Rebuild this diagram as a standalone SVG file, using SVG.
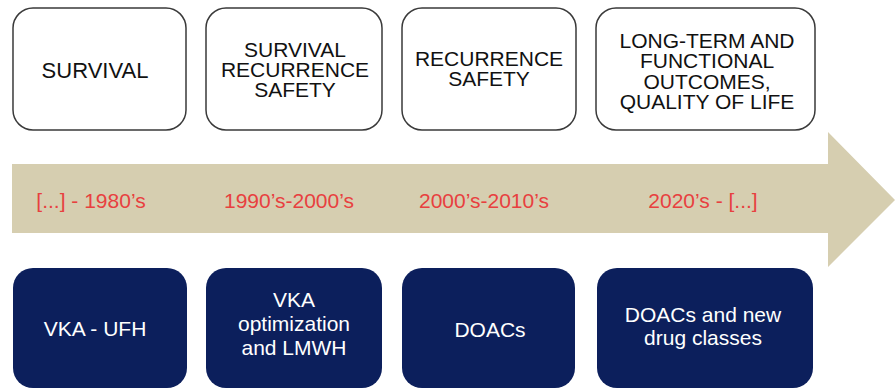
<svg xmlns="http://www.w3.org/2000/svg" width="896" height="389" viewBox="0 0 896 389">
<style>
.top rect{fill:#ffffff;stroke:#3a3a3a;stroke-width:1.5}
.top text{font-family:"Liberation Sans",Arial,sans-serif;font-size:21px;fill:#111111;text-anchor:middle}
.bot rect{fill:#0c1f5c;stroke:none}
.bot text{font-family:"Liberation Sans",Arial,sans-serif;font-size:21px;fill:#ffffff;text-anchor:middle}
.date{font-family:"Liberation Sans",Arial,sans-serif;font-size:21px;fill:#e8403f;text-anchor:middle}
</style>
<rect width="896" height="389" fill="#ffffff"/>
<g id="timeline-arrow">
<polygon points="12,164 828,164 828,132 895,200 828,267 828,233 12,233" fill="#d6ceb0"/>
<text class="date" x="91" y="207.5">[...] - 1980’s</text>
<text class="date" x="289" y="207.5">1990’s-2000’s</text>
<text class="date" x="484" y="207.5">2000’s-2010’s</text>
<text class="date" x="703" y="207.5">2020’s - [...]</text>
</g>
<g id="connectors"></g>
<g id="goal-1" class="top"><rect x="13" y="8" width="173" height="122" rx="20"/><text x="95" y="77.5" style="font-size:22px">SURVIVAL</text></g>
<g id="goal-2" class="top"><rect x="206" y="8" width="176" height="122" rx="20"/><text x="295" y="57">SURVIVAL</text><text x="295" y="77">RECURRENCE</text><text x="295" y="97">SAFETY</text></g>
<g id="goal-3" class="top"><rect x="402" y="8" width="174" height="122" rx="20"/><text x="489" y="66">RECURRENCE</text><text x="489" y="86">SAFETY</text></g>
<g id="goal-4" class="top"><rect x="596" y="8" width="219" height="122" rx="20"/><text x="707" y="47.5">LONG-TERM AND</text><text x="707" y="68">FUNCTIONAL</text><text x="707" y="88.5">OUTCOMES,</text><text x="707" y="109">QUALITY OF LIFE</text></g>
<g id="drug-1" class="bot"><rect x="13" y="268" width="174" height="120" rx="20"/><text x="95" y="336">VKA - UFH</text></g>
<g id="drug-2" class="bot"><rect x="206" y="268" width="176" height="120" rx="20"/><text x="294" y="307">VKA</text><text x="294" y="331">optimization</text><text x="294" y="355">and LMWH</text></g>
<g id="drug-3" class="bot"><rect x="402" y="268" width="173" height="120" rx="20"/><text x="490" y="337">DOACs</text></g>
<g id="drug-4" class="bot"><rect x="597" y="268" width="216" height="120" rx="20"/><text x="703" y="322">DOACs and new</text><text x="703" y="345">drug classes</text></g>
</svg>
